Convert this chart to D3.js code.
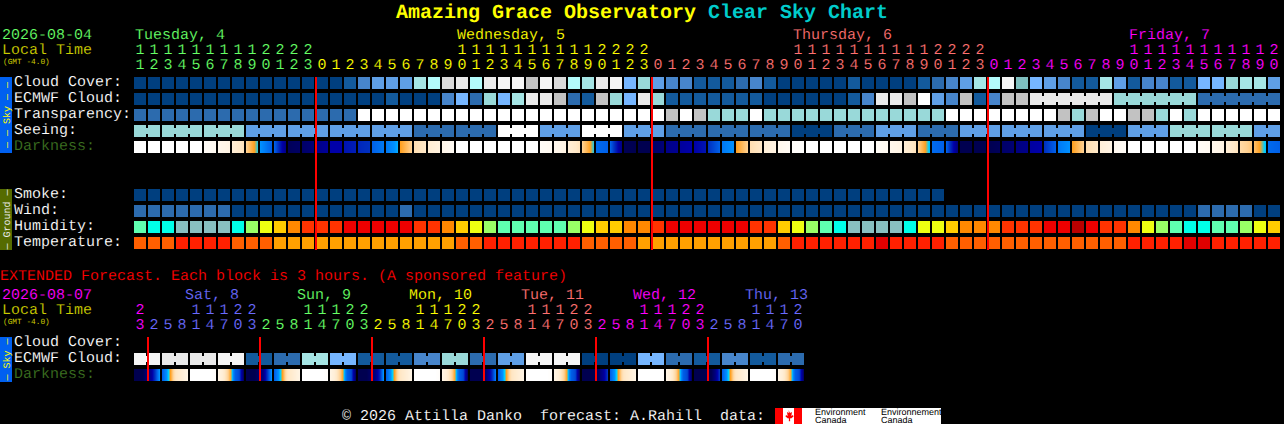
<!DOCTYPE html>
<html><head><meta charset="utf-8">
<script src="https://cdnjs.cloudflare.com/ajax/libs/d3/7.8.5/d3.min.js"></script>
<style>
html,body{margin:0;padding:0;background:#000;overflow:hidden}
svg{display:block}
text{font-family:"Liberation Mono",monospace;white-space:pre;text-rendering:geometricPrecision;stroke:#000;stroke-width:.12px}
text.solid{stroke:none}
</style></head><body><svg id="c" width="1284" height="424"></svg>
<script>
// ---------- tick labels ----------
const mainHours=[11,12,13,14,15,16,17,18,19,20,21,22,23,0,1,2,3,4,5,6,7,8,9,10,11,12,13,14,15,16,17,18,19,20,21,22,23,0,1,2,3,4,5,6,7,8,9,10,11,12,13,14,15,16,17,18,19,20,21,22,23,0,1,2,3,4,5,6,7,8,9,10,11,12,13,14,15,16,17,18,19,20];
const extHours=[23,2,5,8,11,14,17,20,23,2,5,8,11,14,17,20,23,2,5,8,11,14,17,20,23,2,5,8,11,14,17,20,23,2,5,8,11,14,17,20,23,2,5,8,11,14,17,20];
const mainDayNames=["Tuesday, 4","Wednesday, 5","Thursday, 6","Friday, 7"];
const mainDayLabelCols=[0,23,47,71];
const mainDayStarts=[0,13,37,61];
const extDayNames=["Sat, 8","Sun, 9","Mon, 10","Tue, 11","Wed, 12","Thu, 13"];
const extDayLabelCols=[4,12,20,28,36,44];
const extDayStarts=[0,1,9,17,25,33,41];
const midnightColsMain=[13,37,61];
const midnightColsExt=[1,9,17,25,33,41];
// ---------- series: sky condition levels, one per hour ----------
const cloudCover=[0,0,0,0,0,0,0,0,0,0,0,0,0,0,0,1,3,4,4,4,14,7,9,10,7,10,11,11,8,11,9,7,14,10,11,5,6,4,3,3,1,1,1,2,3,1,0,0,0,0,0,1,0,0,0,0,1,2,3,4,14,7,11,13,5,4,3,1,1,14,4,1,3,3,1,1,5,5,6,14,14,4];
const ecmwfSpans=[1,1,1,1,1,1,1,1,1,1,1,1,1,1,1,1,1,1,1,1,1,1,1,1,1,1,1,1,1,1,1,1,1,1,1,1,1,1,1,1,1,1,1,1,1,1,1,1,1,1,1,1,1,1,1,1,1,1,1,1,1,1,1,1,6,6,6];
const ecmwfCloud=[0,0,0,0,0,0,0,0,0,0,0,0,0,0,0,0,0,0,1,0,0,0,3,5,2,6,5,14,10,10,8,2,1,8,6,5,10,6,1,1,1,1,1,1,1,0,0,0,0,0,0,1,3,10,10,8,12,4,3,8,1,3,8,8,10,6,2];
const transparency=[2,2,2,2,2,2,2,2,2,2,2,2,2,2,2,2,12,12,12,12,12,12,12,12,12,12,12,12,12,12,12,12,12,12,12,12,12,12,8,12,8,6,6,6,12,6,6,6,6,6,6,6,6,6,6,6,6,6,12,12,12,12,12,12,12,12,8,6,8,12,12,8,8,6,12,6,12,12,12,12,12,12];
const seeingSpans=[2,3,3,3,3,3,3,3,3,3,3,3,3,3,3,3,3,3,3,3,3,3,3,3,3,3,3,2];
const seeing=[6,6,6,4,4,4,4,2,2,12,4,12,4,2,2,2,0,2,4,2,4,4,4,0,4,6,6,4];
const smoke=[0,0,0,0,0,0,0,0,0,0,0,0,0,0,0,0,0,0,0,0,0,0,0,0,0,0,0,0,0,0,0,0,0,0,0,0,0,0,0,0,0,0,0,0,0,0,0,0,0,0,0,0,0,0,0,0,0,0];
const wind=[2,2,2,2,2,2,2,0,0,0,0,0,0,0,0,0,0,0,0,2,0,0,0,0,0,0,0,0,0,0,0,0,0,0,0,0,0,0,0,0,0,0,0,0,0,0,0,0,0,0,0,0,0,0,0,0,0,0,0,0,0,0,0,0,0,0,0,0,0,0,0,0,0,0,0,0,2,2,2,2,0,0];
const humidity=[2,1,1,0,0,0,0,1,3,4,5,6,7,7,7,8,8,8,8,8,7,7,6,5,4,3,2,2,2,2,2,3,4,5,5,6,6,7,8,8,8,8,8,8,7,7,5,4,3,2,1,0,0,0,0,1,4,4,5,6,6,6,7,7,7,8,8,9,8,7,7,6,4,3,2,1,1,2,2,3,4,5];
const temperature=[1,1,1,2,2,2,2,1,1,1,0,0,0,0,0,0,0,0,0,0,0,0,0,1,1,2,2,2,2,2,2,2,1,1,1,1,0,0,0,0,0,0,0,0,0,0,1,2,2,2,2,2,2,3,2,2,2,2,1,1,1,1,1,1,1,1,1,1,1,1,1,2,2,2,2,3,3,2,2,2,2,2];
const darknessFrom=[0,0,0,0,0,.3,.7,1.5,3,5,6,9.8,9.5,8.8,8,7.6,7.2,6,5.5,4,2.4,1.6,.8,0,0,0,0,0,0,.3,.7,1.5,3,5.8,6,9.9,10,9.5,8.8,8.3,8,7,5.5,4,2.4,1.4,.7,.2,0,0,0,0,0,.3,.7,1.5,3,5.8,6,10,10,10,9.5,9,8.2,7,5.5,4,2.4,1.4,.6,0,0,0,0,0,.3,.7,1.5,2.6,3.4,5.8];
const darknessTo=[0,0,0,0,0,.5,1,2.2,4.4,6,8.8,9.6,9.2,8.4,8,7.4,7,5.5,4.8,3,2,1.2,.4,0,0,0,0,0,0,.5,1,2.2,4.4,6,8.8,10,10,9.2,8.6,8,7.6,6,5,3,2,1.1,.4,.1,0,0,0,0,0,.5,1,2.2,4.6,6,9,10,10,9.8,9.3,8.8,8,6,5,3,2,1,.3,0,0,0,0,0,.5,1,2.2,3.2,4.6,6];
// ---------- extended forecast ----------
const extSpans=[2,2,2,2,2,2,2,2,2,2,2,2,2,2,2,2,2,2,2,2,2,2,2,2];
const extCloud=[11,10,10,11,1,2,14,5,1,1,3,6,2,4,11,11,0,0,5,2,1,3,1,2];
const extDarkness=[
[10,10,10,9.2,8.5,6.8,5],[6,5,3.9,2.2,1.8,1.4,1],[0,0,0,0,0,0,.2],[1,1.5,2.5,4,6,6.5,9.5],
[10,10,10,9.5,9,7,5],[6,5,3.9,2.2,1.8,1.4,1],[0,0,0,0,0,0,.2],[1,1.5,2.5,4,6,6.5,9.5],
[10,10,10,9.5,9,7.5,5],[6,5,3.9,2.2,1.8,1.4,1],[0,0,0,0,0,0,.2],[1,1.5,2.5,4,6,6.5,9.5],
[10,10,10,10,9,7.5,5.5],[6,5,3.9,2.2,1.8,1.4,1],[0,0,0,0,0,0,.2],[1,1.5,2.5,4,6,6.5,9.5],
[10,10,10,10,9.5,8.5,7],[6,5,3.9,2.2,1.8,1.4,1],[0,0,0,0,0,0,.2],[1,1.5,2.5,4,6,6.5,9.5],
[10,10,10,10,10,9,7],[6,5,3.9,2.2,1.8,1.4,1],[0,0,0,0,0,0,.2],[1,1.5,2.5,4,6,6.5,9.5]];
// ---------- row labels ----------
const skyLabels=["Cloud Cover:","ECMWF Cloud:","Transparency:","Seeing:","Darkness:"];
const groundLabels=["Smoke:","Wind:","Humidity:","Temperature:"];
const extLabels=["Cloud Cover:","ECMWF Cloud:","Darkness:"];

// ---------- scales ----------
const svg=d3.select("#c");
const x=d3.scaleLinear().domain([0,1]).range([134,148]);
const CELL=12;
const skyY=d3.scaleBand().domain(d3.range(5)).range([77,157]);
const groundY=d3.scaleBand().domain(d3.range(4)).range([189,253]);
const extY=d3.scaleBand().domain(d3.range(3)).range([337,385]);
const skyColor=d3.scaleOrdinal().domain(d3.range(15)).range(["#003f7f","#135a9c","#2c6bae","#4785cb","#5f9fe6","#76b6ff","#99d9d9","#b2fbfb","#c2c2c2","#dadada","#eaeaea","#f5f5f5","#ffffff","#7fbfbf","#a5e5e5"]);
const humColor=d3.scaleOrdinal().domain(d3.range(10)).range(["#88c0c0","#00ffe8","#5fffb0","#99ff66","#eeff11","#ffcc00","#ff8800","#ff3300","#ee0000","#bb0000"]);
const tempColor=d3.scaleOrdinal().domain(d3.range(4)).range(["#ffa000","#ff5f00","#ff2000","#e00000"]);
const darkColor=d3.scaleLinear().domain([0,1,2,3,4,4.5,5,6,7,8,9,10]).range(["#ffffff","#fff4e4","#ffe8c8","#ffd090","#ffa020","#00d0ff","#0090ff","#0060e8","#0030c0","#0000a8","#000080","#000050"]).clamp(true);
const mainDayColor=d3.scaleOrdinal().domain(d3.range(4)).range(["#66ff66","#ffff00","#ff7070","#ff00ff"]);
const extDayColor=d3.scaleOrdinal().domain(d3.range(7)).range(["#ff00ff","#6a6aff","#66ff66","#ffff00","#ff7070","#ff00ff","#6a6aff"]);
const dayOf=(starts,c)=>d3.bisectRight(starts,c)-1;

function label(t,px,py,opt={}){
  const e=svg.append("text").attr("x",px).attr("y",py).text(t)
    .attr("font-size",opt.size||15).attr("fill",opt.fill||"#fff");
  if(opt.anchor)e.attr("text-anchor",opt.anchor);
  if(opt.solid)e.attr("class","solid");
  return e;
}
function cells(g,vals,y,color){
  g.append("g").attr("shape-rendering","crispEdges").selectAll("rect").data(vals).join("rect")
   .attr("x",(d,i)=>x(i)).attr("y",y).attr("width",CELL).attr("height",CELL).attr("fill",d=>color(d));
}
function spanCells(g,spans,vals,y,color){
  const gg=g.append("g").attr("shape-rendering","crispEdges");
  let c=0;
  spans.forEach((n,k)=>{
    for(let j=0;j<n;j++){
      gg.append("rect").attr("x",x(c+j)).attr("y",y).attr("width",CELL).attr("height",CELL).attr("fill",color(vals[k]));
      if(j<n-1)gg.append("rect").attr("x",x(c+j)+CELL).attr("y",y+3).attr("width",x(1)-x(0)-CELL).attr("height",CELL-6).attr("fill",color(vals[k]));
    }
    c+=n;
  });
}
function ticks(hours,dayStarts,colorFn,yTens,yUnits){
  hours.forEach((h,i)=>{
    const col=colorFn(dayOf(dayStarts,i));
    if(h>=10)label(String(Math.floor(h/10)),x(i)+6,yTens,{fill:col,anchor:"middle"});
    label(String(h%10),x(i)+6,yUnits,{fill:col,anchor:"middle"});
  });
}
function sidebar(y0,y1,bg,txt,fg){
  svg.append("rect").attr("x",0).attr("y",y0).attr("width",12).attr("height",y1-y0).attr("fill",bg).attr("shape-rendering","crispEdges");
  svg.append("text").attr("class","solid").attr("transform",`translate(9.5,${(y0+y1)/2}) rotate(-90)`).attr("text-anchor","middle")
    .attr("font-size",10).attr("fill",fg).text(txt);
}
function redLines(cols,y0,y1){
  svg.append("g").attr("shape-rendering","crispEdges").selectAll("rect").data(cols).join("rect")
    .attr("x",d=>x(d)-1).attr("y",y0).attr("width",2).attr("height",y1-y0).attr("fill","#ff0000");
}

// title
const title=svg.append("text").attr("class","solid").attr("x",396).attr("y",18).attr("font-size",20).attr("font-weight","bold");
title.append("tspan").attr("fill","#ffff00").text("Amazing Grace Observatory ");
title.append("tspan").attr("fill","#00cccc").text("Clear Sky Chart");

// header main
label("2026-08-04",2,39,{fill:"#66ff66"});
label("Local Time",2,54,{fill:"#cccc00"});
label("(GMT -4.0)",3,64,{fill:"#cccc00",size:7.8,solid:true});
mainDayNames.forEach((n,k)=>label(n,x(mainDayLabelCols[k])+1,39,{fill:mainDayColor(k)}));
ticks(mainHours,mainDayStarts,mainDayColor,54,69);

// sky
sidebar(77,153,"#0060f0","— — Sky — —","#ffff00");
skyLabels.forEach((t,k)=>label(t,14,skyY(k)+9,{fill:k==4?"#3c7020":"#fff"}));
const gSky=svg.append("g");
cells(gSky,cloudCover,skyY(0),skyColor);
spanCells(gSky,ecmwfSpans,ecmwfCloud,skyY(1),skyColor);
cells(gSky,transparency,skyY(2),skyColor);
spanCells(gSky,seeingSpans,seeing,skyY(3),skyColor);
// darkness: one-pixel strips per block
const gd=gSky.append("g").attr("shape-rendering","crispEdges");
darknessFrom.forEach((a,i)=>{
  const b=darknessTo[i];
  d3.range(CELL).forEach(p=>gd.append("rect").attr("x",x(i)+p).attr("y",skyY(4)).attr("width",1).attr("height",CELL)
    .attr("fill",darkColor(a+(b-a)*p/(CELL-1))));
});

// ground
sidebar(189,250,"#556b00","— Ground —","#eeeeee");
groundLabels.forEach((t,k)=>label(t,14,groundY(k)+9));
const gGround=svg.append("g");
cells(gGround,smoke,groundY(0),skyColor);
cells(gGround,wind,groundY(1),skyColor);
cells(gGround,humidity,groundY(2),humColor);
cells(gGround,temperature,groundY(3),tempColor);
redLines(midnightColsMain,77,250);

// extended
label("EXTENDED Forecast. Each block is 3 hours. (A sponsored feature)",0,280,{fill:"#ff0000"});
label("2026-08-07",2,299,{fill:"#ff00ff"});
label("Local Time",2,314,{fill:"#cccc00"});
label("(GMT -4.0)",3,324,{fill:"#cccc00",size:7.8,solid:true});
extDayNames.forEach((n,k)=>label(n,x(extDayLabelCols[k])-5,299,{fill:extDayColor(k+1)}));
ticks(extHours,extDayStarts,extDayColor,314,329);
sidebar(337,382,"#0060f0","— Sky —","#ffff00");
extLabels.forEach((t,k)=>label(t,14,extY(k)+9,{fill:k==2?"#3c7020":"#fff"}));
const gExt=svg.append("g");
spanCells(gExt,extSpans,extCloud,extY(1),skyColor);
const ge=gExt.append("g").attr("shape-rendering","crispEdges");
extDarkness.forEach((s,k)=>{
  const W=x(2)-x(0)-2, f=d3.scaleLinear().domain(d3.range(s.length).map(j=>j*(W-1)/(s.length-1))).range(s);
  d3.range(W).forEach(p=>ge.append("rect").attr("x",x(2*k)+p).attr("y",extY(2)).attr("width",1).attr("height",CELL).attr("fill",darkColor(f(p))));
});
redLines(midnightColsExt,337,381);

// footer
label("© 2026 Attilla Danko  forecast: A.Rahill  data:",342,420,{size:15});
const lg=svg.append("g");
lg.append("rect").attr("x",775).attr("y",408).attr("width",166).attr("height",16).attr("fill","#fff");
lg.append("rect").attr("x",775).attr("y",408).attr("width",8).attr("height",16).attr("fill","#f00");
lg.append("rect").attr("x",794).attr("y",408).attr("width",8).attr("height",16).attr("fill","#f00");
lg.append("path").attr("d","M788.5 410l1.5 3 2-1-.7 4 1.7-1 .5 1.5-2.5 2-1-.2.2 3h-1.4l.2-3-1 .2-2.5-2 .5-1.5 1.7 1-.7-4 2 1z").attr("fill","#f00");
[["Environment",815],["Environnement",881]].forEach(d=>{
  svg.append("text").attr("class","solid").attr("x",d[1]).attr("y",415).attr("font-size",9).attr("fill","#000").style("font-family","Liberation Sans").text(d[0]);
  svg.append("text").attr("class","solid").attr("x",d[1]).attr("y",423).attr("font-size",9).attr("fill","#000").style("font-family","Liberation Sans").text("Canada");
});
</script></body></html>
